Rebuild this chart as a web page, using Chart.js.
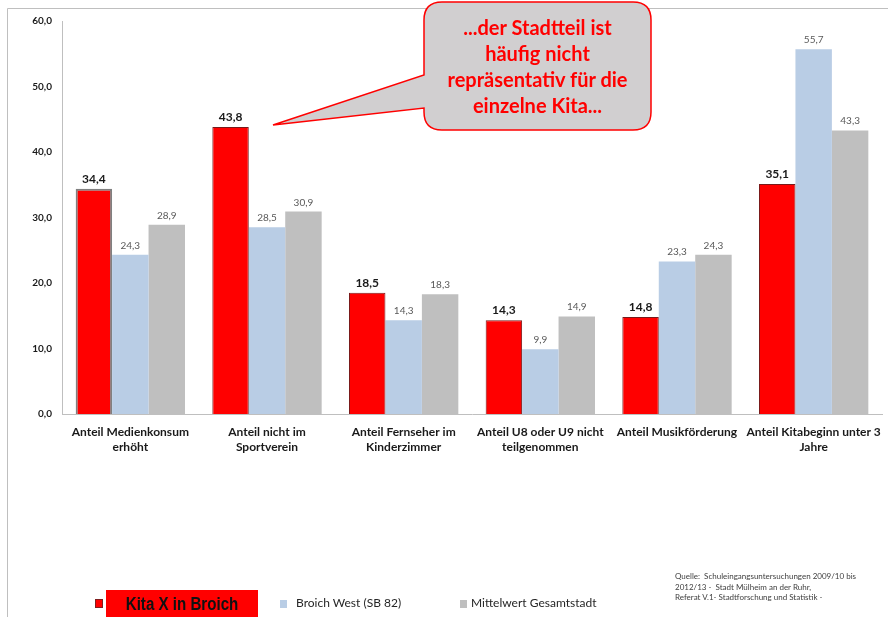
<!DOCTYPE html>
<html><head><meta charset="utf-8">
<script src="https://cdn.jsdelivr.net/npm/chart.js@4"></script>
<style>
html,body{margin:0;padding:0;background:#fff;}
#wrap{position:relative;width:888px;height:617px;overflow:hidden;font-family:Lato,"Open Sans",sans-serif;}
canvas{position:absolute;left:0;top:0;}
svg{position:absolute;left:0;top:0;}
.callout{position:absolute;left:424px;top:14px;width:227px;text-align:center;color:#ff0000;font-weight:bold;font-size:20px;line-height:26px;}
.leg{position:absolute;font-size:12px;line-height:14px;color:#262626;white-space:nowrap;}
.sw{position:absolute;width:7px;height:8px;}
.src{position:absolute;left:675px;top:571px;font-size:8px;line-height:10.5px;color:#404040;white-space:nowrap;}
</style></head>
<body><div id="wrap">
<canvas id="c" width="888" height="617"></canvas>
<svg width="888" height="617">
<line x1="7.5" y1="8.5" x2="7.5" y2="617" stroke="#bfbfbf" stroke-width="1"/>
<line x1="7.5" y1="8.5" x2="888" y2="8.5" stroke="#bfbfbf" stroke-width="1"/>
<path d="M442,2 H633 Q651,2 651,20 V112 Q651,130 633,130 H442 Q424,130 424,112 V108 L273,125 L424,75 V20 Q424,2 442,2 Z" fill="#d1cfd0" stroke="#ff0000" stroke-width="1.5"/>
</svg>
<div class="callout">...der Stadtteil ist<br>häufig nicht<br>repräsentativ für die<br>einzelne Kita...</div>
<div class="sw" style="left:95px;top:599px;background:#ff0000;border:1px solid #7f1f1f;width:6px;height:7px;"></div>
<div style="position:absolute;left:106px;top:590px;width:152px;height:27px;background:#ff0000;"></div>
<div class="leg" style="left:106px;top:593px;width:152px;height:22px;text-align:center;font-family:'Liberation Sans',Arial,sans-serif;font-weight:bold;font-size:18px;line-height:22px;color:#111;"><span style="display:inline-block;transform:scaleX(0.84);">Kita X in Broich</span></div>
<div class="sw" style="left:280px;top:600px;background:#b9cde5;"></div>
<div class="leg" style="left:296px;top:596px;">Broich West (SB 82)</div>
<div class="sw" style="left:460px;top:600px;background:#bfbfbf;"></div>
<div class="leg" style="left:471px;top:596px;">Mittelwert Gesamtstadt</div>
<div class="src">Quelle:&nbsp; Schuleingangsuntersuchungen 2009/10 bis<br>2012/13 -&nbsp; Stadt Mülheim an der Ruhr,<br>Referat V.1- Stadtforschung und Statistik -</div>
</div>
<script>
const categories = [
  ['Anteil Medienkonsum','erhöht'],
  ['Anteil nicht im','Sportverein'],
  ['Anteil Fernseher im','Kinderzimmer'],
  ['Anteil U8 oder U9 nicht','teilgenommen'],
  ['Anteil Musikförderung'],
  ['Anteil Kitabeginn unter 3','Jahre']
];
const kitaX = [34.4, 43.8, 18.5, 14.3, 14.8, 35.1];
const broichWest = [24.3, 28.5, 14.3, 9.9, 23.3, 55.7];
const mittelwert = [28.9, 30.9, 18.3, 14.9, 24.3, 43.3];
const seriesNames = ['Kita X in Broich', 'Broich West (SB 82)', 'Mittelwert Gesamtstadt'];
const yTicks = [0, 10, 20, 30, 40, 50, 60];

const fmt = v => v.toFixed(1).replace('.', ',');

const labelPlugin = {
  id: 'vals',
  afterDatasetsDraw(chart) {
    const ctx = chart.ctx;
    chart.data.datasets.forEach((ds, di) => {
      const meta = chart.getDatasetMeta(di);
      meta.data.forEach((bar, i) => {
        ctx.save();
        ctx.textAlign = 'center';
        ctx.textBaseline = 'alphabetic';
        if (di === 0) {
          ctx.font = 'bold 12px Lato, sans-serif';
          ctx.fillStyle = '#1a1a1a';
        } else {
          ctx.font = '10px Lato, sans-serif';
          ctx.fillStyle = '#595959';
        }
        ctx.fillText(fmt(ds.data[i]), bar.x, bar.y - 6);
        ctx.restore();
      });
    });
  }
};

new Chart(document.getElementById('c'), {
  type: 'bar',
  data: {
    labels: categories,
    datasets: [
      { label: seriesNames[0], data: kitaX, backgroundColor: '#ff0000',
        borderColor: ['#808080','#7a1a1a','#7a1a1a','#7a1a1a','#7a1a1a','#7a1a1a'],
        borderWidth: [2,1,1,1,1,1], categoryPercentage: 0.8, barPercentage: 1.0 },
      { label: seriesNames[1], data: broichWest, backgroundColor: '#b9cde5', borderWidth: 0, categoryPercentage: 0.8, barPercentage: 1.0 },
      { label: seriesNames[2], data: mittelwert, backgroundColor: '#bfbfbf', borderWidth: 0, categoryPercentage: 0.8, barPercentage: 1.0 }
    ]
  },
  options: {
    responsive: false,
    animation: false,
    layout: { padding: { left: 0, top: 21, right: 6, bottom: 0 } },
    plugins: { legend: { display: false }, tooltip: { enabled: false } },
    scales: {
      x: {
        grid: { display: false, drawTicks: false },
        border: { color: '#bfbfbf', width: 1 },
        ticks: { color: '#1a1a1a', font: { family: 'Lato', weight: 'bold', size: 12, lineHeight: 1.25 }, padding: 11, maxRotation: 0, autoSkip: false },
        afterFit(s) { s.height = 203; s.paddingLeft = 0; s.paddingRight = 0; }
      },
      y: {
        min: 0, max: 60,
        afterBuildTicks(s) { s.ticks = yTicks.map(v => ({ value: v })); },
        grid: { display: false, drawTicks: false },
        border: { color: '#bfbfbf', width: 1 },
        ticks: { color: '#1a1a1a', font: { family: 'Lato', weight: 'bold', size: 10 }, padding: 10, callback: v => fmt(v) },
        afterFit(s) { s.width = 62; s.paddingTop = 0; s.paddingBottom = 0; }
      }
    }
  },
  plugins: [labelPlugin]
});
</script>
</body></html>
